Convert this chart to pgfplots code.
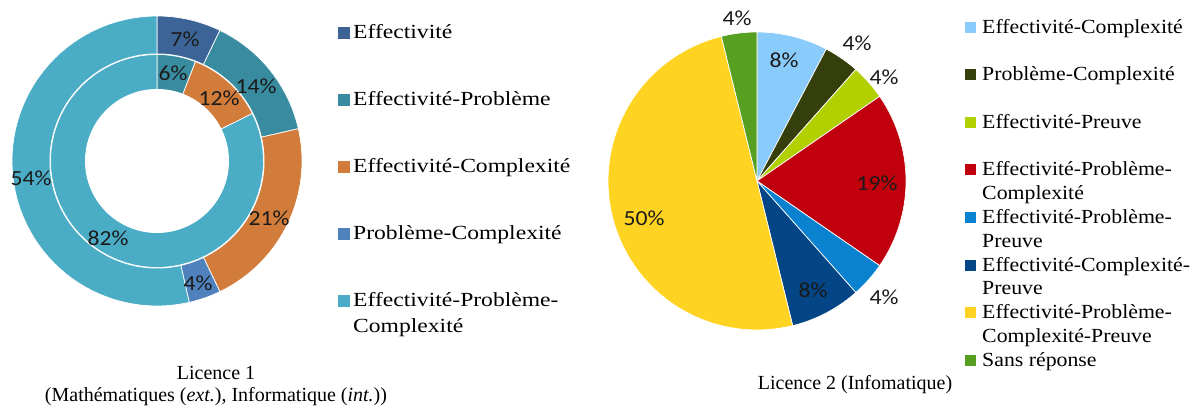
\documentclass[border=0pt]{standalone}
\usepackage{fontspec}
\setmainfont{Liberation Serif}
\newfontfamily\pctfont[FakeStretch=1.1]{Carlito}
\newfontfamily\legfontL[FakeStretch=1.18]{Liberation Serif}
\newfontfamily\legfontR[FakeStretch=1.09]{Liberation Serif}
\usepackage{pgfplots}
\pgfplotsset{compat=1.18}

\definecolor{lA}{HTML}{3C6496}
\definecolor{lB}{HTML}{398B9F}
\definecolor{lC}{HTML}{D17C3A}
\definecolor{lD}{HTML}{4F81BD}
\definecolor{lE}{HTML}{4BACC6}
\definecolor{rA}{HTML}{89CBFA}
\definecolor{rB}{HTML}{343F0C}
\definecolor{rC}{HTML}{B2CF00}
\definecolor{rD}{HTML}{C0000C}
\definecolor{rE}{HTML}{0A82D0}
\definecolor{rF}{HTML}{034585}
\definecolor{rG}{HTML}{FFD322}
\definecolor{rH}{HTML}{569F20}
\definecolor{lbl}{HTML}{1A1A1A}

% \slice[opts]{cx}{cy}{r}{cumulative count}{count}{total}{colour}
\newcommand{\slice}[8][]{%
  \addplot[#1,fill=#8,draw=white,line width=0.7pt,domain=0:1,samples=61]
    ({#2+#4*cos(90-360*(#5+#6*x)/#7)},{#3+#4*sin(90-360*(#5+#6*x)/#7)})
    -- (#2,#3) -- cycle;}
\newcommand{\disc}[3]{%
  \addplot[forget plot,fill=white,draw=none,domain=0:360,samples=181]
    ({#1+#3*cos(x)},{#2+#3*sin(x)}) -- cycle;}
\newcommand{\legtext}[1]{\parbox[t]{260pt}{\raggedright\strut #1}}

\begin{document}
\begin{tikzpicture}
\useasboundingbox (0,0) rectangle (1196pt,414pt);
\pgfplotsset{pieaxis/.style={at={(0pt,0pt)},anchor=south west,width=1196pt,height=414pt,
  scale only axis,xmin=0,xmax=1196,ymin=0,ymax=414,hide axis,clip=false}}

% ---------- Licence 1 (double ring) ----------
\begin{axis}[pieaxis,
  legend image code/.code={\fill[#1,draw=none] (0pt,-1pt) rectangle (12pt,11pt);},
  legend style={at={(axis cs:338,391)},anchor=north west,draw=none,fill=none,
    inner sep=0pt,row sep=0pt,column sep=3pt,font=\legfontL\fontsize{20}{26}\selectfont,
    nodes={inner sep=0pt,text height=15pt,text depth=52pt},cells={anchor=base west}}]
\slice{157}{253}{145}{0}{2}{28}{lA}
\addlegendentry{\legtext{Effectivité}}
\slice{157}{253}{145}{2}{4}{28}{lB}
\addlegendentry{\legtext{Effectivité-Problème}}
\slice{157}{253}{145}{6}{6}{28}{lC}
\addlegendentry{\legtext{Effectivité-Complexité}}
\slice{157}{253}{145}{12}{1}{28}{lD}
\addlegendentry{\legtext{Problème-Complexité}}
\slice{157}{253}{145}{13}{15}{28}{lE}
\addlegendentry{\legtext{Effectivité-Problème-\newline Complexité}}
\disc{157}{253}{107.5}
\slice[forget plot]{157}{253}{106.5}{0}{1}{17}{lB}
\slice[forget plot]{157}{253}{106.5}{1}{2}{17}{lC}
\slice[forget plot]{157}{253}{106.5}{3}{14}{17}{lE}
\disc{157}{253}{72}
\begin{scope}[every node/.style={font=\pctfont\fontsize{21.5}{22}\selectfont,text=lbl,inner sep=0pt}]
\node at (axis cs:185,375) {7\%};
\node at (axis cs:173,341) {6\%};
\node at (axis cs:219,316) {12\%};
\node at (axis cs:256,328) {14\%};
\node at (axis cs:31,236) {54\%};
\node at (axis cs:108,176) {82\%};
\node at (axis cs:269,196) {21\%};
\node at (axis cs:198,131) {4\%};
\end{scope}
\node[font=\fontsize{20}{22}\selectfont,align=center,inner sep=0pt] at (axis cs:216,28)
  {Licence 1\\(Mathématiques (\textit{ext.}), Informatique (\textit{int.}))};
\end{axis}

% ---------- Licence 2 (pie) ----------
\begin{axis}[pieaxis,
  legend image code/.code={\fill[#1,draw=none] (0pt,0.5pt) rectangle (11pt,11.5pt);},
  legend style={at={(axis cs:965,396)},anchor=north west,draw=none,fill=none,
    inner sep=0pt,row sep=0pt,column sep=6pt,font=\legfontR\fontsize{20}{23.5}\selectfont,
    nodes={inner sep=0pt,text height=15pt,text depth=32.6pt},cells={anchor=base west}}]
\slice{757}{233}{149}{0}{2}{26}{rA}
\addlegendentry{\legtext{Effectivité-Complexité}}
\slice{757}{233}{149}{2}{1}{26}{rB}
\addlegendentry{\legtext{Problème-Complexité}}
\slice{757}{233}{149}{3}{1}{26}{rC}
\addlegendentry{\legtext{Effectivité-Preuve}}
\slice{757}{233}{149}{4}{5}{26}{rD}
\addlegendentry{\legtext{Effectivité-Problème-\newline Complexité}}
\slice{757}{233}{149}{9}{1}{26}{rE}
\addlegendentry{\legtext{Effectivité-Problème-\newline Preuve}}
\slice{757}{233}{149}{10}{2}{26}{rF}
\addlegendentry{\legtext{Effectivité-Complexité-\newline Preuve}}
\slice{757}{233}{149}{12}{13}{26}{rG}
\addlegendentry{\legtext{Effectivité-Problème-\newline Complexité-Preuve}}
\slice{757}{233}{149}{25}{1}{26}{rH}
\addlegendentry{\legtext{Sans réponse}}
\begin{scope}[every node/.style={font=\pctfont\fontsize{21.5}{22}\selectfont,text=lbl,inner sep=0pt}]
\node at (axis cs:737,396) {4\%};
\node at (axis cs:784,354) {8\%};
\node at (axis cs:857,371) {4\%};
\node at (axis cs:884,337) {4\%};
\node at (axis cs:877,231) {19\%};
\node at (axis cs:884,117) {4\%};
\node at (axis cs:813,124) {8\%};
\node at (axis cs:644,196) {50\%};
\end{scope}
\node[font=\fontsize{20}{22}\selectfont,inner sep=0pt] at (axis cs:855,29)
  {Licence 2 (Infomatique)};
\end{axis}
\end{tikzpicture}
\end{document}
